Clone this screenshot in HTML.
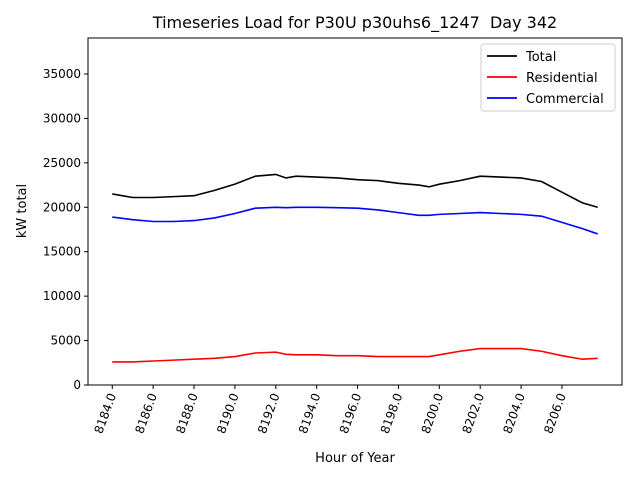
<!DOCTYPE html>
<html><head><meta charset="utf-8"><style>
body{margin:0;background:#fff;font-family:"Liberation Sans",sans-serif}
svg text{font-family:"DejaVu Sans","Liberation Sans",sans-serif}
</style></head><body>
<svg id="chart" width="640" height="480" xmlns="http://www.w3.org/2000/svg">
<rect width="640" height="480" fill="#fff"/>
<text x="355" y="28" font-size="16" text-anchor="middle" style="white-space:pre">Timeseries Load for P30U p30uhs6_1247  Day 342</text>
<g id="plot"></g>
<text x="355" y="462" font-size="13" text-anchor="middle">Hour of Year</text>
<text x="26" y="211" font-size="13" text-anchor="middle" transform="rotate(-90 26 211)">kW total</text>
</svg>
<script>
const hours=[8184,8185,8186,8187,8188,8189,8190,8191,8192,8192.5,8193,8194,8195,8196,8197,8198,8199,8199.5,8200,8201,8202,8203,8204,8205,8206,8207,8207.75];
const totalVals=[21500,21100,21100,21200,21300,21900,22600,23500,23700,23300,23500,23400,23300,23100,23000,22700,22500,22300,22600,23000,23500,23400,23300,22900,21700,20500,20000];
const residentialVals=[2600,2600,2700,2800,2900,3000,3200,3600,3700,3450,3400,3400,3300,3300,3200,3200,3200,3200,3400,3800,4100,4100,4100,3800,3300,2900,3000];
const commercialVals=[18900,18600,18400,18400,18500,18800,19300,19900,20000,19950,20000,20000,19950,19900,19700,19400,19100,19100,19200,19300,19400,19300,19200,19000,18300,17600,17000];
const xTicks=[8184,8186,8188,8190,8192,8194,8196,8198,8200,8202,8204,8206];
const yTicks=[0,5000,10000,15000,20000,25000,30000,35000];
const L=88,R=622,T=38,B=385;
const xMin=8182.8125,xMax=8208.9375,yMax=39050;
const X=v=>L+(v-xMin)/(xMax-xMin)*(R-L);
const Y=v=>B-v/yMax*(B-T);
const g=document.getElementById('plot');const NS='http://www.w3.org/2000/svg';
function mk(t,a){const e=document.createElementNS(NS,t);for(const k in a)e.setAttribute(k,a[k]);g.appendChild(e);return e;}
xTicks.forEach(t=>{const x=X(t);
const l=mk('line',{x1:x,x2:x,y1:B,y2:B+4,stroke:'#000'});


const tx=mk('text',{x:x+4,y:B+10,'font-size':12,'text-anchor':'end',transform:`rotate(-70 ${x+4} ${B+10})`});


tx.textContent=t.toFixed(1);});
yTicks.forEach(t=>{const y=Y(t);
const l=mk('line',{x1:L-4,x2:L,y1:y,y2:y,stroke:'#000'});


const tx=mk('text',{x:L-7,y:y+4,'font-size':12,'text-anchor':'end'});


tx.textContent=t;});
const series=[['total-line',totalVals,'#000'],['residential-line',residentialVals,'#f00'],['commercial-line',commercialVals,'#00f']];
series.forEach(([n,vals,c])=>{
const p=mk('polyline',{points:hours.map((h,i)=>X(h)+','+Y(vals[i])).join(' '),fill:'none',stroke:c,'stroke-width':1.6});

});
const fr=mk('rect',{x:L,y:T,width:R-L,height:B-T,fill:'none',stroke:'#000','stroke-width':1});


const lg=mk('rect',{x:481,y:44,width:134,height:67,fill:'#fff',stroke:'#ccc',rx:3});


[['Total','#000'],['Residential','#f00'],['Commercial','#00f']].forEach(([t,c],i)=>{const y=56+i*21;
const l=mk('line',{x1:487,x2:517,y1:y,y2:y,stroke:c,'stroke-width':1.8});


const tx=mk('text',{x:526,y:y+5,'font-size':13});


tx.textContent=t;});
</script>
</body></html>
